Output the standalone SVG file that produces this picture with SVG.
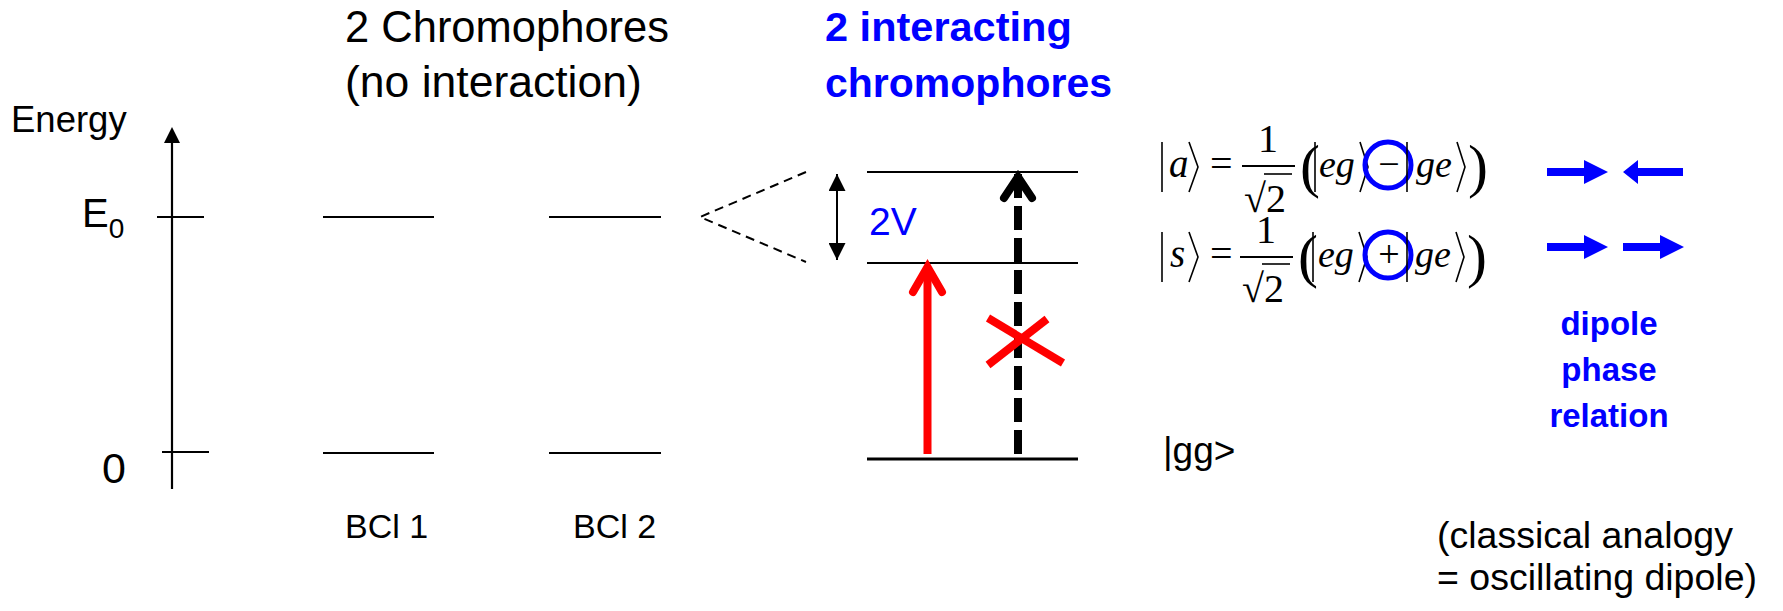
<svg xmlns="http://www.w3.org/2000/svg" width="1783" height="611" viewBox="0 0 1783 611">
<style>
.sans{font-family:"Liberation Sans",Arial,sans-serif;fill:#000}
.blue{fill:#0000FF}
.bold{font-weight:bold}
.lvl{stroke:#000;stroke-width:2.2;fill:none}
.math{font-family:"Liberation Serif","Times New Roman",serif;fill:#000}
.it{font-style:italic}
.delim{stroke:#000;stroke-width:1.6;fill:none}
</style>
<defs>
<marker id="headK2" viewBox="0 0 10 10" refX="10" refY="5" markerWidth="17" markerHeight="17" markerUnits="userSpaceOnUse" orient="auto-start-reverse">
<path d="M0,0 L10,5 L0,10 z" fill="#000"/>
</marker>
</defs>
<rect width="1783" height="611" fill="#fff"/>

<g id="axis">
<text class="sans" x="11" y="132" font-size="36.5">Energy</text>
<line x1="172" y1="489" x2="172" y2="140" stroke="#000" stroke-width="2.2"/>
<polygon points="172,127 164,143 180,143" fill="#000"/>
<line x1="157" y1="217" x2="204" y2="217" class="lvl"/>
<line x1="162" y1="452" x2="209" y2="452" class="lvl"/>
<text class="sans" x="82" y="227" font-size="40">E<tspan font-size="28" dy="11">0</tspan></text>
<text class="sans" x="102" y="483" font-size="43">0</text>
</g>

<g id="title-left">
<text class="sans" x="345" y="42" font-size="43.5">2 Chromophores</text>
<text class="sans" x="345" y="97" font-size="44.5">(no interaction)</text>
</g>

<g id="bcl1">
<line x1="323" y1="217" x2="434" y2="217" class="lvl"/>
<line x1="323" y1="453" x2="434" y2="453" class="lvl"/>
<text class="sans" x="345" y="538" font-size="34">BCl 1</text>
</g>

<g id="bcl2">
<line x1="549" y1="217" x2="661" y2="217" class="lvl"/>
<line x1="549" y1="453" x2="661" y2="453" class="lvl"/>
<text class="sans" x="573" y="538" font-size="34">BCl 2</text>
</g>

<g id="title-right">
<text class="sans blue bold" x="825" y="41" font-size="41.5">2 interacting</text>
<text class="sans blue bold" x="825" y="97" font-size="41">chromophores</text>
</g>

<g id="dimer">
<line x1="867" y1="172" x2="1078" y2="172" class="lvl"/>
<line x1="867" y1="263" x2="1078" y2="263" class="lvl"/>
<line x1="867" y1="459" x2="1078" y2="459" stroke="#000" stroke-width="3"/>
<text class="sans blue" x="869" y="235" font-size="39">2V</text>
<text class="sans" x="1163" y="463" font-size="37">|gg&gt;</text>
</g>

<g id="connectors">
<polyline points="806,172 700,217 806,262" fill="none" stroke="#000" stroke-width="2" stroke-dasharray="9,6"/>
<line x1="837" y1="174" x2="837" y2="260" stroke="#000" stroke-width="2" marker-start="url(#headK2)" marker-end="url(#headK2)"/>
<line x1="927.5" y1="454" x2="927.5" y2="268" stroke="#FF0000" stroke-width="8"/>
<polyline points="913,292 927.5,267 942,292" fill="none" stroke="#FF0000" stroke-width="8" stroke-linecap="round" stroke-linejoin="miter"/>
<line x1="1018" y1="454" x2="1018" y2="174" stroke="#000" stroke-width="8" stroke-dasharray="24,8"/>
<polyline points="1004,198 1018,177 1032,198" fill="none" stroke="#000" stroke-width="8" stroke-linecap="round" stroke-linejoin="miter"/>
<line x1="988" y1="318" x2="1063" y2="363" stroke="#FF0000" stroke-width="8"/>
<line x1="988" y1="365" x2="1047" y2="319" stroke="#FF0000" stroke-width="8"/>
</g>

<g id="eq-a">
<line x1="1162" y1="142" x2="1162" y2="192" class="delim"/>
<text class="math it" x="1169" y="177" font-size="39">a</text>
<polyline points="1189,142 1198,167 1189,192" class="delim"/>
<text class="math" x="1210" y="177" font-size="40">=</text>
<text class="math" x="1268" y="152" font-size="40" text-anchor="middle">1</text>
<line x1="1242" y1="166" x2="1295" y2="166" stroke="#000" stroke-width="2"/>
<text class="math" x="1244" y="212" font-size="40">√2</text>
<line x1="1264" y1="174" x2="1292" y2="174" stroke="#000" stroke-width="1.6"/>
<text class="math" x="1300" y="186" font-size="60">(</text>
<line x1="1315" y1="142" x2="1315" y2="192" class="delim"/>
<text class="math it" x="1319" y="177" font-size="38">eg</text>
<polyline points="1360,142 1368,167 1360,192" class="delim"/>
<text class="math" x="1389" y="177" font-size="38" text-anchor="middle">−</text>
<circle cx="1388" cy="165" r="23" fill="none" stroke="#0000FF" stroke-width="5"/>
<line x1="1407" y1="142" x2="1407" y2="192" class="delim"/>
<text class="math it" x="1416" y="177" font-size="38">ge</text>
<polyline points="1457,142 1465,167 1457,192" class="delim"/>
<text class="math" x="1468" y="186" font-size="60">)</text>
</g>

<g id="eq-s">
<line x1="1162" y1="232" x2="1162" y2="282" class="delim"/>
<text class="math it" x="1170" y="267" font-size="39">s</text>
<polyline points="1189,232 1198,257 1189,282" class="delim"/>
<text class="math" x="1210" y="267" font-size="40">=</text>
<text class="math" x="1266" y="243" font-size="40" text-anchor="middle">1</text>
<line x1="1240" y1="257" x2="1293" y2="257" stroke="#000" stroke-width="2"/>
<text class="math" x="1242" y="302" font-size="40">√2</text>
<line x1="1262" y1="264" x2="1290" y2="264" stroke="#000" stroke-width="1.6"/>
<text class="math" x="1298" y="276" font-size="60">(</text>
<line x1="1313" y1="232" x2="1313" y2="282" class="delim"/>
<text class="math it" x="1318" y="267" font-size="38">eg</text>
<polyline points="1359,232 1367,257 1359,282" class="delim"/>
<text class="math" x="1389" y="267" font-size="38" text-anchor="middle">+</text>
<circle cx="1388" cy="255" r="23" fill="none" stroke="#0000FF" stroke-width="5"/>
<line x1="1407" y1="232" x2="1407" y2="282" class="delim"/>
<text class="math it" x="1415" y="267" font-size="38">ge</text>
<polyline points="1456,232 1464,257 1456,282" class="delim"/>
<text class="math" x="1467" y="276" font-size="60">)</text>
</g>

<g id="dipoles">
<path d="M1547,168 H1584 V160 L1608,172 L1584,184 V176 H1547 Z" fill="#0000FF"/>
<path d="M1683,168 H1638 V160 L1623,172 L1638,184 V176 H1683 Z" fill="#0000FF"/>
<path d="M1547,243 H1584 V235 L1608,247 L1584,259 V251 H1547 Z" fill="#0000FF"/>
<path d="M1623,243 H1660 V235 L1684,247 L1660,259 V251 H1623 Z" fill="#0000FF"/>
<text class="sans blue bold" x="1609" y="335" font-size="33" text-anchor="middle">dipole</text>
<text class="sans blue bold" x="1609" y="381" font-size="33" text-anchor="middle">phase</text>
<text class="sans blue bold" x="1609" y="427" font-size="33" text-anchor="middle">relation</text>
</g>

<g id="note">
<text class="sans" x="1437" y="548" font-size="37.5">(classical analogy</text>
<text class="sans" x="1437" y="590" font-size="37.5">= oscillating dipole)</text>
</g>
</svg>
